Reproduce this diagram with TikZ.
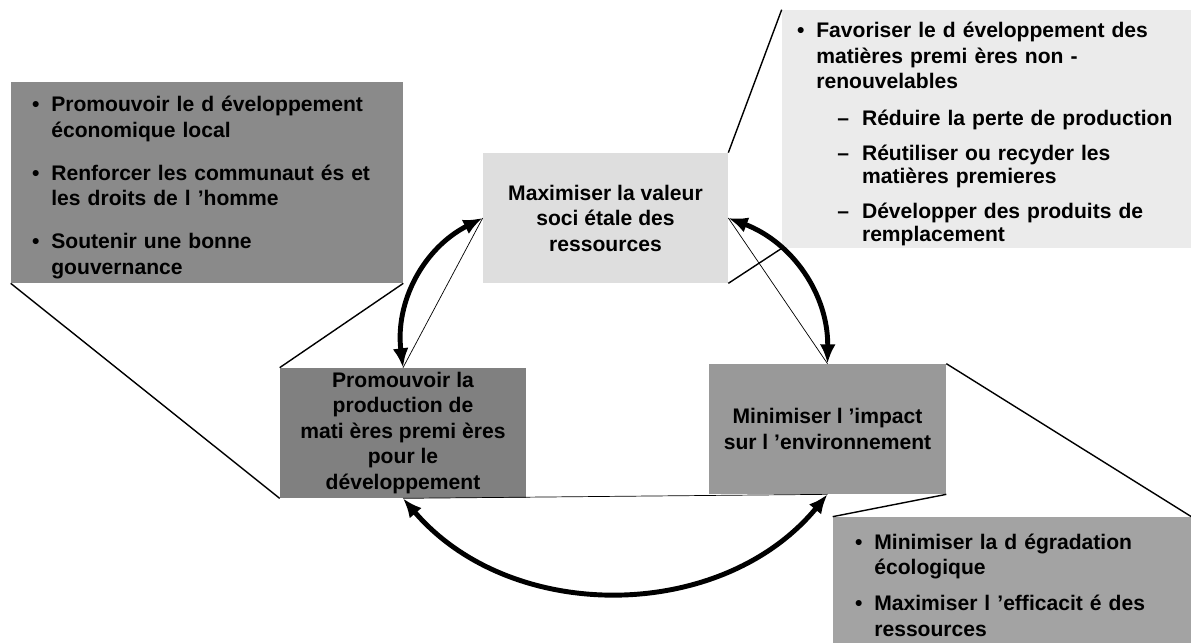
\documentclass[tikz,border=0pt]{standalone}
\usepackage{fontspec}
\setmainfont{Liberation Sans}
\usetikzlibrary{arrows.meta}

\definecolor{lightbox}{HTML}{DEDEDE}
\definecolor{paperbox}{HTML}{EBEBEB}
\definecolor{leftbox}{HTML}{8A8A8A}
\definecolor{prodbox}{HTML}{808080}
\definecolor{envbox}{HTML}{999999}
\definecolor{ecobox}{HTML}{A3A3A3}

\newcommand{\bul}[1]{\par\hangindent=11pt\hangafter=1\noindent\makebox[11pt][l]{\textbullet}#1\par}
\newcommand{\subbul}[1]{\par\begingroup\baselineskip=13pt\hangindent=37pt\hangafter=1\noindent\hspace*{23pt}\makebox[14pt][l]{--}#1\par\endgroup}

\begin{document}
\begin{tikzpicture}[x=0.02cm, y=-0.02cm]
	\tikzstyle{every node}=[inner sep=0pt, font=\bfseries\fontsize{12}{14.5}\selectfont]
	\tikzstyle{box}=[align=center, minimum height=2.6cm]
	\tikzstyle{detail}=[align=left]
	\tikzstyle{callout}=[line width=0.8pt]
	\tikzstyle{cycle}=[line width=2.8pt, {Latex[length=11pt,width=9pt]}-{Latex[length=11pt,width=9pt]}]
	\tikzstyle{chord}=[line width=0.4pt]
	\useasboundingbox (0,0) rectangle (1191,643);
	% the three goals
	\node[box, fill=lightbox, minimum width=4.9cm] (V) at (605.5,218) {Maximiser la valeur\\soci étale des\\ressources};
	\node[box, fill=prodbox, minimum width=4.92cm] (P) at (403,433) {Promouvoir la\\production de\\mati ères premi ères\\pour le\\développement};
	\node[box, fill=envbox, minimum width=4.74cm] (E) at (827.5,429) {Minimiser l ’impact\\sur l ’environnement};
	% the details
	\node[detail, fill=leftbox, minimum width=7.84cm, minimum height=4.02cm, text width=7.0cm] (PT) at (207,182.5) {%
		\bul{Promouvoir le d éveloppement\newline économique local}
		\vspace{10pt}
		\bul{Renforcer les communaut és et\newline les droits de l ’homme}
		\vspace{10pt}
		\bul{Soutenir une bonne\newline gouvernance}};
	\node[detail, fill=paperbox, minimum width=8.18cm, minimum height=4.76cm, text width=7.58cm] (VT) at (986.5,129) {%
		\bul{Favoriser le d éveloppement  des\newline matières premi ères non -\newline renouvelables}
		\vspace{8pt}
		\subbul{Réduire la perte de production}
		\vspace{7pt}
		\subbul{Réutiliser ou recyder les\newline matières premieres}
		\vspace{7pt}
		\subbul{Développer des produits de\newline remplacement}};
	\node[detail, fill=ecobox, minimum width=7.16cm, minimum height=2.52cm, text width=6.28cm] (ET) at (1012,580) {%
		\bul{Minimiser la d égradation\newline écologique}
		\vspace{6pt}
		\bul{Maximiser l ’efficacit é des\newline ressources}};
	% callouts
	\draw[callout] (PT.south west) -- (P.south west);
	\draw[callout] (PT.south east) -- (P.north west);
	\draw[callout] (V.north east) -- (VT.north west);
	\draw[callout] (V.south east) -- (VT.south west);
	\draw[callout] (E.north east) -- (ET.north east);
	\draw[callout] (E.south east) -- (ET.north west);
	% cycle
	\draw[cycle] (V.west) to[bend right=35] (P.north);
	\draw[chord] (V.west) -- (P.north);
	\draw[cycle] (V.east) to[bend left=35] (E.north);
	\draw[chord] (V.east) -- (E.north);
	\draw[cycle] (P.south) to[bend right=50] (E.south);
	\draw[chord] (P.south) -- (E.south);
\end{tikzpicture}
\end{document}
